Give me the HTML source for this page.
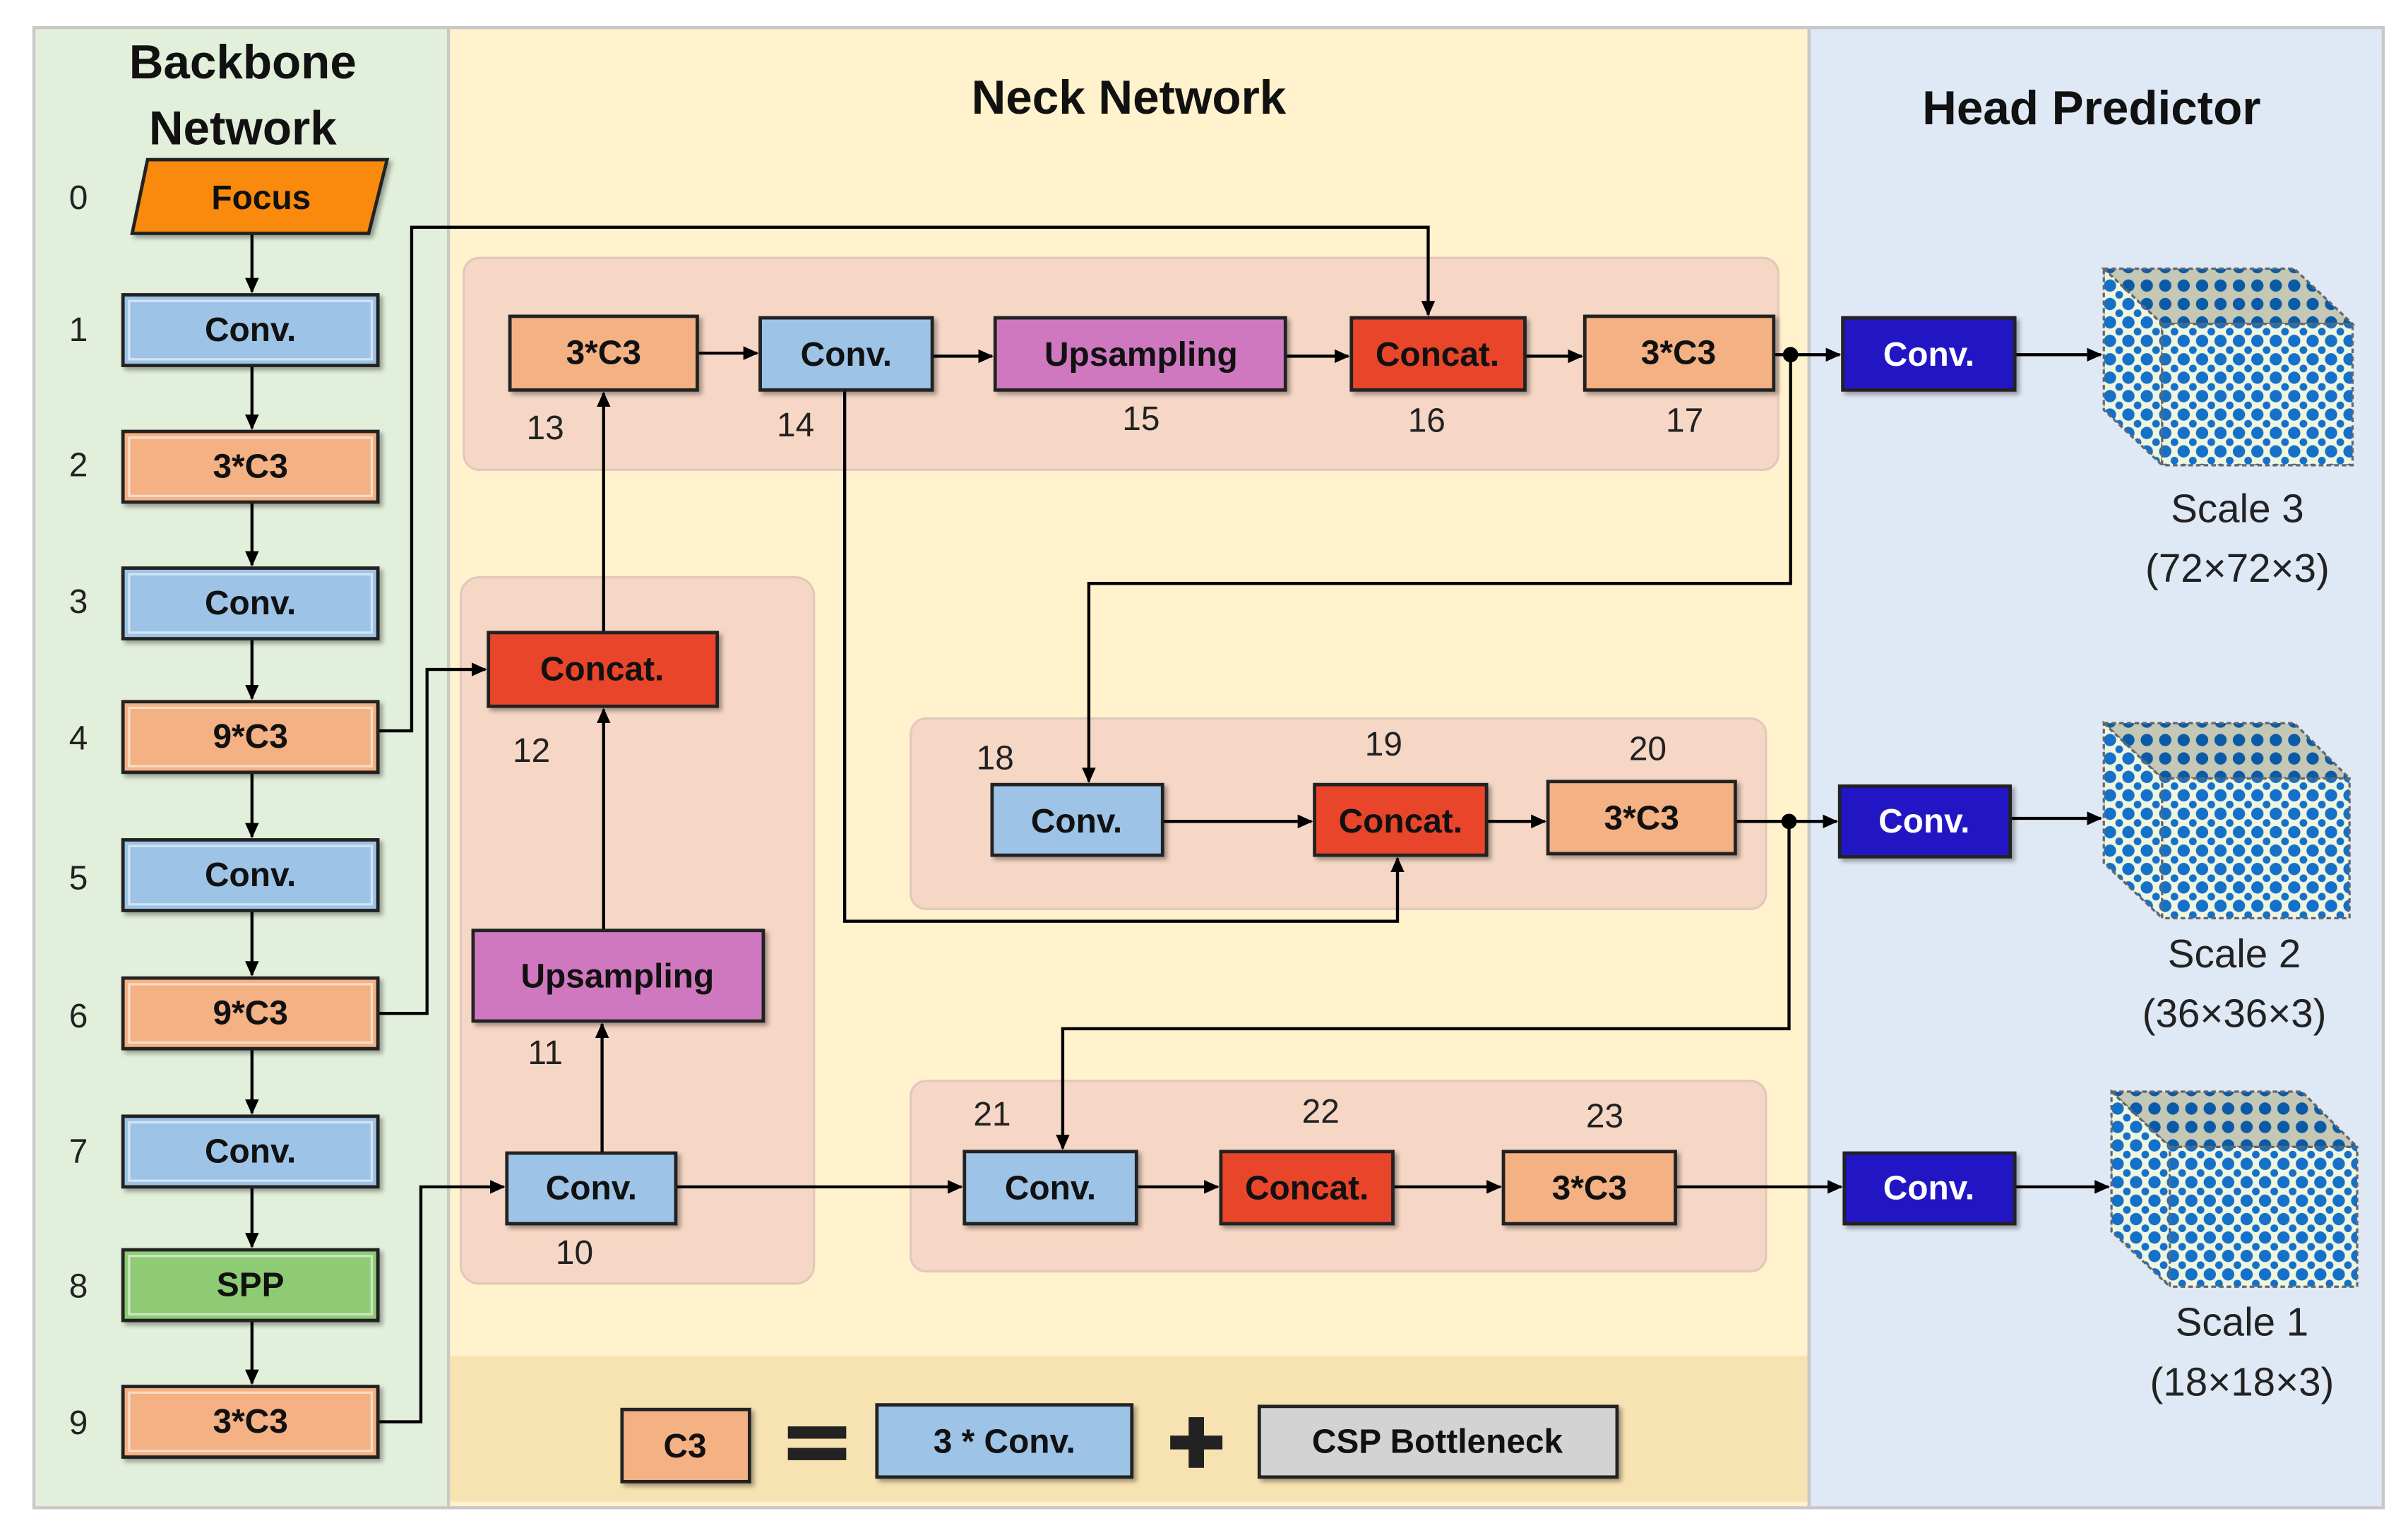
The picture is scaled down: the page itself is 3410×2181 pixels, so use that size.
<!DOCTYPE html>
<html><head><meta charset="utf-8"><style>
html,body{margin:0;padding:0;background:#fff}
svg{display:block}
text{font-family:"Liberation Sans",sans-serif}
.t{font-weight:bold;font-size:22px;text-anchor:middle;dominant-baseline:central;fill:#111}
.n{font-size:22px;text-anchor:middle;dominant-baseline:central;fill:#222}
.h{font-weight:bold;font-size:31px;text-anchor:middle;fill:#111}
.s{font-size:26px;text-anchor:middle;dominant-baseline:central;fill:#222}
.b{stroke:#222;stroke-width:2.2}
.l{stroke:#000;stroke-width:2;fill:none}
</style></head><body>
<svg width="3410" height="2181" viewBox="0 0 1568 1003" xmlns="http://www.w3.org/2000/svg">
<defs>
<marker id="a" markerWidth="10" markerHeight="10" refX="9" refY="5" orient="auto" markerUnits="userSpaceOnUse"><path d="M0,0.5 L10,5 L0,9.5 z" fill="#000"/></marker>
<pattern id="d" width="12" height="12" patternUnits="userSpaceOnUse"><rect width="12" height="12" fill="#eef5e0"/><circle cx="6" cy="6" r="4" fill="#1470c8"/><circle cx="0" cy="0" r="2.5" fill="#1470c8"/><circle cx="12" cy="0" r="2.5" fill="#1470c8"/><circle cx="0" cy="12" r="2.5" fill="#1470c8"/><circle cx="12" cy="12" r="2.5" fill="#1470c8"/></pattern>
<pattern id="d2" width="12" height="12" patternUnits="userSpaceOnUse"><rect width="12" height="12" fill="#c4c8b4"/><circle cx="6" cy="6" r="4" fill="#0a5aa8"/></pattern>
<filter id="sh"><feDropShadow dx="2" dy="2" stdDeviation="1.5" flood-opacity="0.35"/></filter>
</defs>
<rect width="1568" height="1003" fill="#fff"/>
<!-- panels -->
<rect x="22" y="18" width="270" height="964" fill="#e2efda" stroke="#c8c8c8" stroke-width="2"/>
<rect x="292" y="18" width="886" height="964" fill="#fff2cc" stroke="#c8c8c8" stroke-width="2"/>
<rect x="293" y="883" width="884" height="95" fill="#f7e3b1"/>
<rect x="1178" y="18" width="374" height="964" fill="#dfe8f5" stroke="#c8c8c8" stroke-width="2"/>
<text class="h" x="158" y="51">Backbone</text>
<text class="h" x="158" y="94">Network</text>
<text class="h" x="735" y="74">Neck Network</text>
<text class="h" x="1362" y="81">Head Predictor</text>
<!-- groups -->
<g fill="#f6d7c5" stroke="#e2c8bc" stroke-width="1.5">
<rect x="302" y="168" width="856" height="138" rx="10"/>
<rect x="300" y="376" width="230" height="460" rx="12"/>
<rect x="593" y="468" width="557" height="124" rx="10"/>
<rect x="593" y="704" width="557" height="124" rx="10"/>
</g>
<!-- connectors -->
<g class="l">
<path d="M164,152 V190" marker-end="url(#a)"/>
<path d="M164,238 V279" marker-end="url(#a)"/>
<path d="M164,327 V368" marker-end="url(#a)"/>
<path d="M164,416 V455" marker-end="url(#a)"/>
<path d="M164,503 V545" marker-end="url(#a)"/>
<path d="M164,593 V635" marker-end="url(#a)"/>
<path d="M164,683 V725" marker-end="url(#a)"/>
<path d="M164,773 V812" marker-end="url(#a)"/>
<path d="M164,860 V901" marker-end="url(#a)"/>
<path d="M246,476 H268 V148 H930 V205" marker-end="url(#a)"/>
<path d="M246,660 H278 V436 H316" marker-end="url(#a)"/>
<path d="M246,926 H274 V773 H328" marker-end="url(#a)"/>
<path d="M392,751 V667" marker-end="url(#a)"/>
<path d="M393,606 V462" marker-end="url(#a)"/>
<path d="M393,412 V256" marker-end="url(#a)"/>
<path d="M454,230 H493" marker-end="url(#a)"/>
<path d="M607,232 H646" marker-end="url(#a)"/>
<path d="M837,232 H878" marker-end="url(#a)"/>
<path d="M993,232 H1030" marker-end="url(#a)"/>
<path d="M1155,231 H1198" marker-end="url(#a)"/>
<path d="M1312,231 H1368" marker-end="url(#a)"/>
<path d="M1166,231 V380 H709 V509" marker-end="url(#a)"/>
<path d="M550,254 V600 H910 V559" marker-end="url(#a)"/>
<path d="M757,535 H854" marker-end="url(#a)"/>
<path d="M968,535 H1006" marker-end="url(#a)"/>
<path d="M1130,535 H1196" marker-end="url(#a)"/>
<path d="M1309,533 H1368" marker-end="url(#a)"/>
<path d="M1165,535 V670 H692 V748" marker-end="url(#a)"/>
<path d="M440,773 H626" marker-end="url(#a)"/>
<path d="M740,773 H793" marker-end="url(#a)"/>
<path d="M907,773 H977" marker-end="url(#a)"/>
<path d="M1091,773 H1199" marker-end="url(#a)"/>
<path d="M1312,773 H1373" marker-end="url(#a)"/>
</g>
<circle cx="1166" cy="231" r="5" fill="#000"/>
<circle cx="1165" cy="535" r="5" fill="#000"/>
<!-- backbone nodes -->
<g filter="url(#sh)">
<polygon points="96,104 252,104 240,152 86,152" fill="#fa8a10" stroke="#222" stroke-width="2.2"/>
<rect class="b" x="80" y="192" width="166" height="46" fill="#9dc3e6"/>
<rect class="b" x="80" y="281" width="166" height="46" fill="#f4b183"/>
<rect class="b" x="80" y="370" width="166" height="46" fill="#9dc3e6"/>
<rect class="b" x="80" y="457" width="166" height="46" fill="#f4b183"/>
<rect class="b" x="80" y="547" width="166" height="46" fill="#9dc3e6"/>
<rect class="b" x="80" y="637" width="166" height="46" fill="#f4b183"/>
<rect class="b" x="80" y="727" width="166" height="46" fill="#9dc3e6"/>
<rect class="b" x="80" y="814" width="166" height="46" fill="#8fcb74"/>
<rect class="b" x="80" y="903" width="166" height="46" fill="#f4b183"/>
<!-- neck nodes -->
<rect class="b" x="332" y="206" width="122" height="48" fill="#f4b183"/>
<rect class="b" x="495" y="207" width="112" height="47" fill="#9dc3e6"/>
<rect class="b" x="648" y="207" width="189" height="47" fill="#cf78bf"/>
<rect class="b" x="880" y="207" width="113" height="47" fill="#e8452a"/>
<rect class="b" x="1032" y="206" width="123" height="48" fill="#f4b183"/>
<rect class="b" x="318" y="412" width="149" height="48" fill="#e8452a"/>
<rect class="b" x="308" y="606" width="189" height="59" fill="#cf78bf"/>
<rect class="b" x="330" y="751" width="110" height="46" fill="#9dc3e6"/>
<rect class="b" x="646" y="511" width="111" height="46" fill="#9dc3e6"/>
<rect class="b" x="856" y="511" width="112" height="46" fill="#e8452a"/>
<rect class="b" x="1008" y="509" width="122" height="47" fill="#f4b183"/>
<rect class="b" x="628" y="750" width="112" height="47" fill="#9dc3e6"/>
<rect class="b" x="795" y="750" width="112" height="47" fill="#e8452a"/>
<rect class="b" x="979" y="750" width="112" height="47" fill="#f4b183"/>
<!-- head -->
<rect class="b" x="1200" y="207" width="112" height="47" fill="#2412c4"/>
<rect class="b" x="1198" y="512" width="111" height="46" fill="#2412c4"/>
<rect class="b" x="1201" y="751" width="111" height="46" fill="#2412c4"/>
<!-- legend -->
<rect class="b" x="405" y="918" width="83" height="47" fill="#f4b183"/>
<rect class="b" x="571" y="915" width="166" height="47" fill="#9dc3e6"/>
<rect class="b" x="820" y="916" width="233" height="46" fill="#d3d3d3"/>
</g>
<!-- inner highlights -->
<g fill="none" stroke="#fff" stroke-opacity="0.55" stroke-width="1.5">
<rect x="84" y="196" width="158" height="38"/><rect x="84" y="374" width="158" height="38"/><rect x="84" y="551" width="158" height="38"/><rect x="84" y="731" width="158" height="38"/>
<rect x="84" y="285" width="158" height="38"/><rect x="84" y="461" width="158" height="38"/><rect x="84" y="641" width="158" height="38"/><rect x="84" y="907" width="158" height="38"/><rect x="84" y="818" width="158" height="38"/>
</g>
<!-- labels -->
<text class="t" x="170" y="129">Focus</text>
<text class="t" x="163" y="215">Conv.</text>
<text class="t" x="163" y="304">3*C3</text>
<text class="t" x="163" y="393">Conv.</text>
<text class="t" x="163" y="480">9*C3</text>
<text class="t" x="163" y="570">Conv.</text>
<text class="t" x="163" y="660">9*C3</text>
<text class="t" x="163" y="750">Conv.</text>
<text class="t" x="163" y="837">SPP</text>
<text class="t" x="163" y="926">3*C3</text>
<text class="t" x="393" y="230">3*C3</text>
<text class="t" x="551" y="231">Conv.</text>
<text class="t" x="743" y="231">Upsampling</text>
<text class="t" x="936" y="231">Concat.</text>
<text class="t" x="1093" y="230">3*C3</text>
<text class="t" x="392" y="436">Concat.</text>
<text class="t" x="402" y="636">Upsampling</text>
<text class="t" x="385" y="774">Conv.</text>
<text class="t" x="701" y="535">Conv.</text>
<text class="t" x="912" y="535">Concat.</text>
<text class="t" x="1069" y="533">3*C3</text>
<text class="t" x="684" y="774">Conv.</text>
<text class="t" x="851" y="774">Concat.</text>
<text class="t" x="1035" y="774">3*C3</text>
<text class="t" x="1256" y="231" fill="#fff" style="fill:#fff">Conv.</text>
<text class="t" x="1253" y="535" style="fill:#fff">Conv.</text>
<text class="t" x="1256" y="774" style="fill:#fff">Conv.</text>
<text class="t" x="446" y="942">C3</text>
<text class="t" x="654" y="939">3 * Conv.</text>
<text class="t" x="936" y="939">CSP Bottleneck</text>
<!-- legend symbols -->
<rect x="513" y="929" width="38" height="8" fill="#222"/><rect x="513" y="943" width="38" height="8" fill="#222"/>
<rect x="762" y="935" width="34" height="9" fill="#222"/><rect x="774" y="923" width="10" height="33" fill="#222"/>
<!-- numbers -->
<g class="n">
<text x="51" y="129">0</text><text x="51" y="215">1</text><text x="51" y="303">2</text><text x="51" y="392">3</text><text x="51" y="481">4</text><text x="51" y="572">5</text><text x="51" y="662">6</text><text x="51" y="750">7</text><text x="51" y="838">8</text><text x="51" y="927">9</text>
<text x="355" y="279">13</text><text x="518" y="277">14</text><text x="743" y="273">15</text><text x="929" y="274">16</text><text x="1097" y="274">17</text>
<text x="346" y="489">12</text><text x="355" y="686">11</text><text x="374" y="816">10</text>
<text x="648" y="494">18</text><text x="901" y="485">19</text><text x="1073" y="488">20</text>
<text x="646" y="726">21</text><text x="860" y="724">22</text><text x="1045" y="727">23</text>
</g>
<!-- cubes -->
<g stroke="#666" stroke-width="1.5" stroke-dasharray="3,2">
<g transform="translate(0,0)">
<polygon points="1370,175 1494,175 1532,211 1408,211" fill="url(#d2)"/>
<polygon points="1370,175 1408,211 1408,303 1370,267" fill="url(#d)"/>
<rect x="1408" y="211" width="124" height="92" fill="url(#d)"/>
</g>
<g transform="translate(0,296)">
<polygon points="1370,175 1494,175 1530,211 1408,211" fill="url(#d2)"/>
<polygon points="1370,175 1408,211 1408,302 1370,266" fill="url(#d)"/>
<rect x="1408" y="211" width="122" height="91" fill="url(#d)"/>
</g>
<g transform="translate(5,536)">
<polygon points="1370,175 1494,175 1530,211 1408,211" fill="url(#d2)"/>
<polygon points="1370,175 1408,211 1408,302 1370,266" fill="url(#d)"/>
<rect x="1408" y="211" width="122" height="91" fill="url(#d)"/>
</g>
</g>
<text class="s" x="1457" y="331">Scale 3</text><text class="s" x="1457" y="370">(72×72×3)</text>
<text class="s" x="1455" y="621">Scale 2</text><text class="s" x="1455" y="660">(36×36×3)</text>
<text class="s" x="1460" y="861">Scale 1</text><text class="s" x="1460" y="900">(18×18×3)</text>
</svg>
</body></html>
